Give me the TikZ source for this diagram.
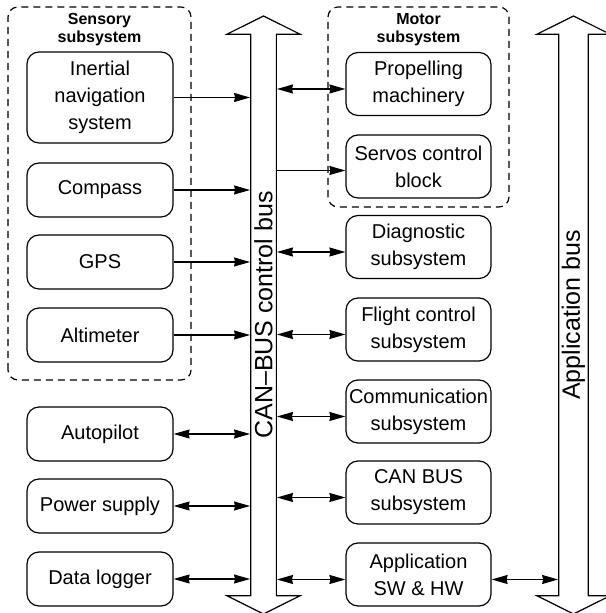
\documentclass[tikz,border=0pt]{standalone}
\usepackage{fontspec}
\setmainfont{Liberation Sans}
\usetikzlibrary{shapes.arrows, arrows.meta, positioning}

\begin{document}
\begin{tikzpicture}[
        x=5pt, y=5pt,
        block/.style={rectangle, draw, line width=0.6pt, rounded corners=6pt, minimum width=73pt, minimum height=27pt, inner xsep=1pt, align=center, font=\fontsize{10}{13.5}\selectfont},
        unit/.style={block, minimum width=72.5pt, minimum height=31.5pt},
        group/.style={draw, line width=0.6pt, dash pattern=on 3.5pt off 2.5pt, rounded corners=5pt},
        grouptitle/.style={align=center, font=\fontsize{8}{9}\selectfont\bfseries},
        bus/.style={double arrow, draw, line width=0.6pt, rotate=90, minimum height=299pt, minimum width=36.5pt, double arrow head extend=9pt, double arrow tip angle=127, inner sep=0pt, font=\fontsize{12.5}{15}\selectfont},
        arrow/.style={-{Stealth[length=8pt, width=4.5pt, inset=0.5pt]}, line width=0.6pt},
        biarrow/.style={{Stealth[length=8pt, width=4.5pt, inset=0.5pt]}-{Stealth[length=8pt, width=4.5pt, inset=0.5pt]}, line width=0.6pt}
    ]
        \useasboundingbox (0,0) rectangle (60.5,61.3);

        % Buses
        \node[bus] (canbus) at (26.35,29.8) {CAN--BUS control bus};
        \node[bus] (appbus) at (57.35,29.8) {Application bus};

        % Sensory subsystem
        \draw[group] (0.8,23.3) rectangle (19.1,60.6);
        \node[grouptitle] (sensorytitle) at (9.95,58.3) {Sensory\\subsystem};
        \node[block, minimum height=45.5pt] (inertial) at (10,51.55) {Inertial\\navigation\\system};
        \node[block] (compass) at (10,42.3) {Compass};
        \node[block] (gps) at (10,35.1) {GPS};
        \node[block] (altimeter) at (10,27.8) {Altimeter};

        \draw[arrow] (inertial.east) -- (inertial.east -| canbus.north);
        \draw[arrow] (compass.east) -- (compass.east -| canbus.north);
        \draw[arrow] (gps.east) -- (gps.east -| canbus.north);
        \draw[arrow] (altimeter.east) -- (altimeter.east -| canbus.north);

        % Other units on the left
        \node[block] (autopilot) at (10,17.9) {Autopilot};
        \node[block] (power) at (10,10.7) {Power supply};
        \node[block] (logger) at (10,3.4) {Data logger};

        \draw[biarrow] (autopilot.east) -- (autopilot.east -| canbus.north);
        \draw[biarrow] (power.east) -- (power.east -| canbus.north);
        \draw[biarrow] (logger.east) -- (logger.east -| canbus.north);

        % Motor subsystem
        \draw[group] (32.8,40.6) rectangle (50.9,60.6);
        \node[grouptitle] (motortitle) at (41.85,58.3) {Motor\\subsystem};
        \node[unit] (propelling) at (41.85,52.9) {Propelling\\machinery};
        \node[unit] (servos) at (41.85,44.65) {Servos control\\block};

        \draw[biarrow] ([yshift=-2.5pt]propelling.west -| canbus.south) -- ([yshift=-2.5pt]propelling.west);
        \draw[arrow] ([yshift=-2pt]servos.west -| canbus.south) -- ([yshift=-2pt]servos.west);

        % Units on the right
        \node[unit] (diagnostic) at (41.85,36.6) {Diagnostic\\subsystem};
        \node[unit] (flight) at (41.85,28.35) {Flight control\\subsystem};
        \node[unit] (comm) at (41.85,20.15) {Communication\\subsystem};
        \node[unit] (cansub) at (41.85,12.05) {CAN BUS\\subsystem};
        \node[unit] (appsw) at (41.85,3.85) {Application\\SW \& HW};

        \draw[biarrow] ([yshift=-2.5pt]diagnostic.west -| canbus.south) -- ([yshift=-2.5pt]diagnostic.west);
        \draw[biarrow] ([yshift=-2.5pt]flight.west -| canbus.south) -- ([yshift=-2.5pt]flight.west);
        \draw[biarrow] ([yshift=-2.5pt]comm.west -| canbus.south) -- ([yshift=-2.5pt]comm.west);
        \draw[biarrow] ([yshift=-2.5pt]cansub.west -| canbus.south) -- ([yshift=-2.5pt]cansub.west);
        \draw[biarrow] ([yshift=-2.5pt]appsw.west -| canbus.south) -- ([yshift=-2.5pt]appsw.west);
        \draw[biarrow] ([yshift=-2.5pt]appsw.east) -- ([yshift=-2.5pt]appsw.east -| appbus.north);

    \end{tikzpicture}
\end{document}
